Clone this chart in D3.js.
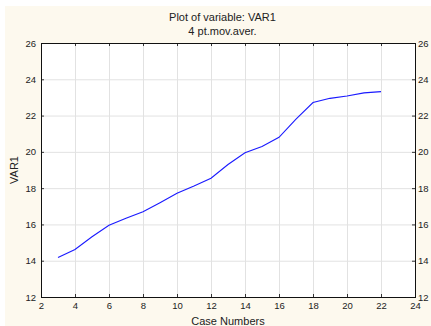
<!DOCTYPE html>
<html>
<head>
<meta charset="utf-8">
<script src="https://cdn.jsdelivr.net/npm/d3@7"></script>
<style>
  body { margin: 0; background: #fff; }
  svg { display: block; font-family: "Liberation Sans", Arial, sans-serif; }
</style>
</head>
<body>
<script>
// data
const caseNumbers = [3, 4, 5, 6, 7, 8, 9, 10, 11, 12, 13, 14, 15, 16, 17, 18, 19, 20, 21, 22];
const var1MovAvg = [14.18, 14.62, 15.32, 15.95, 16.34, 16.7, 17.2, 17.72, 18.12, 18.55,
                    19.3, 19.95, 20.3, 20.8, 21.8, 22.72, 22.95, 23.08, 23.25, 23.32];
const xTicks = [2, 4, 6, 8, 10, 12, 14, 16, 18, 20, 22, 24];
const yTicks = [12, 14, 16, 18, 20, 22, 24, 26];

const W = 431, H = 326;
const m = { left: 41, right: 16, top: 43, bottom: 29 };
const pw = W - m.left - m.right, ph = H - m.top - m.bottom;

const svg = d3.select('body').append('svg')
    .attr('width', W)
    .attr('height', H);

// cream panel
svg.append('rect')
   .attr('x', 5).attr('y', 6)
   .attr('width', W - 5).attr('height', H - 6)
   .attr('fill', '#fdf9ee');

const x = d3.scaleLinear().domain([2, 24]).range([m.left, m.left + pw]);
const y = d3.scaleLinear().domain([12, 26]).range([m.top + ph, m.top]);

svg.append('rect')
   .attr('x', m.left).attr('y', m.top)
   .attr('width', pw).attr('height', ph)
   .attr('fill', '#fff');

// grid
svg.append('g').selectAll('line')
   .data(xTicks.slice(1, -1)).enter().append('line')
   .attr('x1', d => x(d) + 0.5).attr('x2', d => x(d) + 0.5)
   .attr('y1', m.top).attr('y2', m.top + ph)
   .attr('stroke', '#e2e2e2');
svg.append('g').selectAll('line')
   .data(yTicks.slice(1, -1)).enter().append('line')
   .attr('y1', d => y(d) + 0.5).attr('y2', d => y(d) + 0.5)
   .attr('x1', m.left).attr('x2', m.left + pw)
   .attr('stroke', '#e2e2e2');

// axes (inward ticks)
const styleAxis = g => {
    g.select('.domain').remove();
    g.selectAll('.tick line').attr('stroke', '#333');
    g.selectAll('text').attr('fill', '#222').attr('font-size', 9.5);
};
svg.append('g')
   .attr('transform', `translate(0,${m.top + ph})`)
   .call(d3.axisBottom(x).tickValues(xTicks).tickSize(-3).tickPadding(5))
   .call(styleAxis);
svg.append('g')
   .attr('transform', `translate(0,${m.top})`)
   .call(d3.axisTop(x).tickValues(xTicks).tickSize(-3).tickFormat(''))
   .call(styleAxis);
svg.append('g')
   .attr('transform', `translate(${m.left},0)`)
   .call(d3.axisLeft(y).tickValues(yTicks).tickSize(-3).tickPadding(5))
   .call(styleAxis);
svg.append('g')
   .attr('transform', `translate(${m.left + pw},0)`)
   .call(d3.axisRight(y).tickValues(yTicks).tickSize(-3).tickPadding(3))
   .call(styleAxis);

// frame
svg.append('rect')
   .attr('x', m.left + 0.5).attr('y', m.top + 0.5)
   .attr('width', pw).attr('height', ph)
   .attr('fill', 'none').attr('stroke', '#111');

// the line
const line = d3.line()
    .x((d, i) => x(caseNumbers[i]))
    .y(d => y(d));
svg.append('path')
   .datum(var1MovAvg)
   .attr('d', line)
   .attr('fill', 'none')
   .attr('stroke', '#1a1aff')
   .attr('stroke-width', 1.1);

// titles
svg.append('text')
   .attr('x', 222.5).attr('y', 21)
   .attr('text-anchor', 'middle').attr('font-size', 11).attr('fill', '#222')
   .text('Plot of variable: VAR1');
svg.append('text')
   .attr('x', 222.5).attr('y', 35)
   .attr('text-anchor', 'middle').attr('font-size', 11).attr('fill', '#222')
   .text('4 pt.mov.aver.');
svg.append('text')
   .attr('x', m.left + pw / 2).attr('y', 325)
   .attr('text-anchor', 'middle').attr('font-size', 11).attr('fill', '#222')
   .text('Case Numbers');
svg.append('text')
   .attr('transform', `translate(18,${m.top + ph / 2}) rotate(-90)`)
   .attr('text-anchor', 'middle').attr('font-size', 11).attr('fill', '#222')
   .text('VAR1');
</script>
</body>
</html>
